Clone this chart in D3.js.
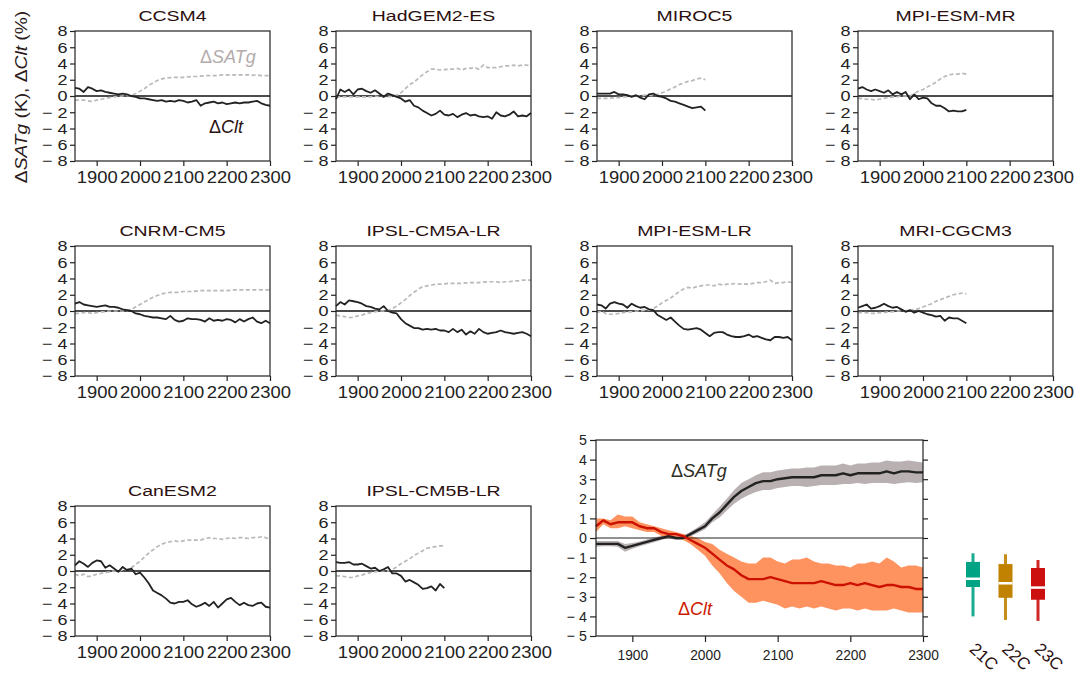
<!DOCTYPE html>
<html><head><meta charset="utf-8">
<script src="https://cdn.jsdelivr.net/npm/d3@7"></script>
<style>
body{margin:0;background:#fff}
text{font-family:"Liberation Sans",Arial,Helvetica,sans-serif}
</style>
</head><body>
<svg id="c" width="1092" height="675"></svg>
<script>
// ---------------- DATA ----------------
const yearsLong = d3.range(1850, 2301, 10);   // 46 decades
const yearsShort = d3.range(1850, 2101, 10);  // 26 decades
const models = ["CCSM4","HadGEM2-ES","MIROC5","MPI-ESM-MR","CNRM-CM5","IPSL-CM5A-LR","MPI-ESM-LR","MRI-CGCM3","CanESM2","IPSL-CM5B-LR"];

const cltCCSM4 = [1.0,0.9,0.5,1.1,0.9,0.6,0.7,0.5,0.4,0.3,0.2,0.3,0.2,0.0,-0.1,-0.3,-0.3,-0.4,-0.5,-0.6,-0.5,-0.7,-0.6,-0.7,-0.5,-0.6,-0.8,-0.7,-0.5,-1.2,-0.9,-0.8,-0.7,-0.9,-0.8,-1.0,-0.9,-0.8,-0.9,-0.8,-0.8,-0.7,-0.6,-0.9,-1.1,-1.2];
const satCCSM4 = [-0.5,-0.5,-0.5,-0.6,-0.7,-0.5,-0.4,-0.3,-0.2,-0.1,-0.05,0,0.05,0.1,0.3,0.6,0.9,1.3,1.6,1.9,2.1,2.2,2.25,2.3,2.3,2.3,2.35,2.4,2.4,2.45,2.5,2.5,2.5,2.5,2.6,2.6,2.55,2.6,2.6,2.6,2.6,2.55,2.6,2.5,2.5,2.5];
const cltHadGEM2ES = [-0.4,0.8,0.5,0.8,0.2,0.8,0.9,0.6,0.4,0.7,0.3,-0.1,0.3,0.1,-0.1,-0.3,-0.7,-0.5,-1.2,-1.4,-1.8,-2.1,-2.4,-2.2,-1.8,-2.3,-2.4,-2.2,-2.6,-2.3,-2.1,-2.4,-2.3,-2.5,-2.6,-2.5,-2.8,-2.0,-2.4,-2.5,-2.3,-1.9,-2.5,-2.4,-2.5,-2.1];
const satHadGEM2ES = [-0.1,-0.1,-0.1,-0.1,-0.1,-0.1,-0.1,-0.1,-0.1,0,-0.1,-0.1,-0.1,0,0.1,0.4,0.9,1.4,1.7,2.2,2.6,3.0,3.3,3.3,3.2,3.25,3.3,3.3,3.4,3.2,3.4,3.4,3.5,3.3,3.8,3.5,3.5,3.5,3.6,3.7,3.7,3.8,3.7,3.8,3.8,3.7];
const cltMIROC5 = [0.3,0.3,0.3,0.3,0.5,0.2,0.2,0.1,-0.1,0.1,-0.2,-0.4,0.2,0.3,0.0,-0.1,-0.3,-0.6,-0.7,-0.9,-1.1,-1.3,-1.5,-1.4,-1.3,-1.8];
const satMIROC5 = [-0.3,-0.3,-0.3,-0.3,-0.2,-0.2,-0.1,-0.1,0,0,0,0.1,0.1,0.0,0.2,0.4,0.6,0.9,1.1,1.4,1.6,1.8,1.9,2.1,2.2,2.0];
const cltMPIESMMR = [0.9,1.1,0.8,0.6,0.8,0.6,0.4,0.7,0.2,0.5,0.2,0.5,-0.4,0.2,-0.4,-0.2,-0.3,-0.9,-1.2,-1.2,-1.5,-1.9,-1.8,-1.9,-1.9,-1.7];
const satMPIESMMR = [-0.3,-0.3,-0.4,-0.4,-0.5,-0.4,-0.3,-0.2,-0.1,-0.1,0,0,0,0.3,0.6,0.8,1.1,1.4,1.7,2.1,2.4,2.6,2.7,2.7,2.8,2.7];
const cltCNRMCM5 = [0.9,1.1,0.8,0.7,0.6,0.5,0.6,0.7,0.5,0.5,0.4,0.2,0.1,0.0,-0.3,-0.4,-0.6,-0.7,-0.8,-0.8,-0.9,-1.0,-0.6,-1.1,-1.3,-1.2,-0.9,-1.0,-1.0,-1.1,-1.3,-0.9,-1.2,-1.1,-1.2,-1.0,-1.1,-1.4,-1.0,-1.3,-1.0,-0.8,-1.3,-1.5,-1.2,-1.5];
const satCNRMCM5 = [-0.3,-0.3,-0.2,-0.2,-0.3,-0.2,-0.1,-0.1,0,0,0,0,0.05,0.2,0.5,0.8,1.1,1.4,1.7,1.9,2.1,2.2,2.3,2.3,2.3,2.4,2.4,2.4,2.45,2.5,2.5,2.5,2.5,2.5,2.5,2.5,2.55,2.6,2.6,2.6,2.6,2.6,2.6,2.6,2.6,2.6];
const cltIPSLCM5ALR = [0.6,1.1,0.8,1.3,1.2,1.1,0.9,0.6,0.5,0.3,0.2,0.6,0.0,-0.2,-0.3,-1.0,-1.5,-1.8,-2.1,-2.1,-2.3,-2.2,-2.3,-2.2,-2.4,-2.4,-2.6,-2.2,-2.6,-2.3,-2.9,-2.5,-2.8,-2.2,-2.6,-2.8,-2.7,-2.6,-2.4,-2.6,-2.7,-2.8,-2.7,-2.6,-2.8,-3.1];
const satIPSLCM5ALR = [-0.5,-0.6,-0.7,-0.8,-0.8,-0.6,-0.5,-0.3,-0.2,-0.1,0,0,0.1,0.3,0.6,1.0,1.4,1.9,2.3,2.7,3.0,3.1,3.2,3.3,3.3,3.35,3.4,3.4,3.4,3.4,3.45,3.5,3.5,3.5,3.55,3.6,3.6,3.6,3.5,3.6,3.6,3.7,3.7,3.8,3.8,3.8];
const cltMPIESMLR = [0.8,0.7,0.3,0.9,1.1,0.9,0.8,0.4,0.9,0.6,0.4,0.5,0.2,0.1,-0.5,-0.8,-1.1,-0.8,-1.3,-1.8,-2.2,-2.3,-2.2,-2.1,-2.3,-2.7,-3.1,-2.7,-2.6,-2.6,-2.9,-3.1,-3.2,-3.2,-3.1,-2.9,-3.2,-3.1,-3.3,-3.5,-3.6,-3.2,-3.2,-3.3,-3.2,-3.6];
const satMPIESMLR = [-0.2,0,-0.3,-0.4,-0.4,-0.3,-0.2,-0.1,-0.1,0,0,0.1,0.1,0.3,0.6,1.0,1.3,1.6,2.0,2.4,2.7,2.9,2.8,3.0,3.1,3.2,3.2,3.1,3.3,3.2,3.3,3.3,3.4,3.3,3.3,3.3,3.4,3.5,3.5,3.6,3.8,3.4,3.5,3.5,3.6,3.5];
const cltMRICGCM3 = [0.4,0.6,0.8,0.3,0.4,0.6,0.9,0.6,0.4,0.5,0.2,-0.1,0.1,-0.2,0.0,-0.2,-0.4,-0.5,-0.7,-0.6,-1.2,-0.8,-0.9,-0.9,-1.2,-1.5];
const satMRICGCM3 = [-0.2,-0.2,-0.2,-0.3,-0.3,-0.2,-0.2,-0.1,-0.1,0,0,0.05,0.1,0.2,0.3,0.5,0.7,0.9,1.2,1.4,1.6,1.8,2.0,2.1,2.2,2.1];
const cltCanESM2 = [0.7,1.2,0.9,0.5,1.0,1.3,1.2,0.4,0.7,0.3,-0.1,0.5,0.1,0.3,-0.4,-0.2,-0.8,-1.5,-2.4,-2.7,-3.0,-3.4,-3.9,-4.0,-3.8,-3.8,-3.6,-4.1,-4.4,-4.2,-3.9,-4.3,-3.8,-4.5,-4.0,-3.5,-3.3,-3.8,-4.2,-3.9,-4.2,-4.3,-4.0,-3.9,-4.4,-4.5];
const satCanESM2 = [-0.4,-0.6,-0.4,-0.7,-0.6,-0.4,-0.3,-0.2,-0.1,0,0,0.1,0.2,0.4,0.8,1.2,1.7,2.2,2.6,3.0,3.3,3.5,3.6,3.7,3.6,3.7,3.8,3.8,3.8,3.8,4.0,4.1,4.0,4.0,3.9,4.0,4.1,4.0,4.1,4.1,4.0,4.1,4.1,4.2,4.1,3.9];
const cltIPSLCM5BLR = [1.1,1.0,1.0,1.1,0.8,0.8,0.9,0.6,0.3,0.4,0.0,0.2,0.5,-0.3,-0.3,-0.6,-1.3,-1.1,-1.4,-1.7,-2.2,-2.1,-1.9,-2.4,-1.6,-2.1];
const satIPSLCM5BLR = [-0.6,-0.6,-0.7,-0.8,-0.8,-0.6,-0.5,-0.3,-0.2,-0.1,0,0,0,0.2,0.5,0.9,1.2,1.5,1.9,2.2,2.5,2.8,2.9,3.0,3.1,3.1];

const cltSeries = [cltCCSM4,cltHadGEM2ES,cltMIROC5,cltMPIESMMR,cltCNRMCM5,cltIPSLCM5ALR,cltMPIESMLR,cltMRICGCM3,cltCanESM2,cltIPSLCM5BLR];
const satSeries = [satCCSM4,satHadGEM2ES,satMIROC5,satMPIESMMR,satCNRMCM5,satIPSLCM5ALR,satMPIESMLR,satMRICGCM3,satCanESM2,satIPSLCM5BLR];

// multi-model mean and spread
const satMean = [-0.3,-0.3,-0.3,-0.3,-0.5,-0.4,-0.3,-0.2,-0.1,0.0,0.1,0.0,0.0,0.2,0.4,0.6,1.0,1.3,1.7,2.1,2.4,2.6,2.8,2.9,2.9,3.0,3.05,3.1,3.1,3.1,3.1,3.2,3.2,3.2,3.3,3.2,3.3,3.3,3.3,3.3,3.4,3.3,3.4,3.4,3.35,3.35];
const satLo = [-0.45,-0.42,-0.42,-0.45,-0.7,-0.55,-0.42,-0.32,-0.22,-0.1,0.0,-0.1,-0.1,0.08,0.25,0.45,0.8,1.05,1.4,1.75,2.0,2.2,2.35,2.45,2.45,2.55,2.6,2.65,2.65,2.6,2.65,2.7,2.7,2.7,2.75,2.75,2.8,2.75,2.8,2.8,2.8,2.75,2.8,2.85,2.8,2.85];
const satHi = [-0.15,-0.15,-0.15,-0.15,-0.3,-0.25,-0.18,-0.08,0.02,0.12,0.22,0.1,0.12,0.32,0.55,0.8,1.2,1.6,2.0,2.45,2.8,3.0,3.2,3.35,3.35,3.45,3.5,3.55,3.55,3.6,3.6,3.7,3.7,3.7,3.8,3.7,3.8,3.8,3.85,3.85,3.95,3.9,3.9,3.95,3.9,3.85];
const cltMean = [0.6,0.9,0.7,0.8,0.8,0.8,0.6,0.5,0.5,0.3,0.2,0.2,0.1,-0.1,-0.3,-0.5,-0.8,-1.1,-1.4,-1.6,-1.9,-2.1,-2.1,-2.1,-2.0,-2.1,-2.2,-2.3,-2.3,-2.3,-2.3,-2.2,-2.3,-2.4,-2.4,-2.3,-2.4,-2.3,-2.4,-2.5,-2.4,-2.4,-2.5,-2.5,-2.6,-2.6];
const cltHi = [1.0,1.0,0.9,1.2,1.1,1.1,0.8,0.7,0.6,0.5,0.4,0.3,0.2,0.1,0.0,-0.2,-0.3,-0.6,-0.8,-1.0,-1.2,-1.3,-1.3,-1.0,-1.0,-1.2,-1.3,-1.1,-1.1,-1.0,-1.2,-1.3,-1.3,-1.4,-1.4,-1.5,-1.3,-1.3,-1.2,-1.3,-1.0,-1.2,-1.5,-1.4,-1.4,-1.5];
const cltLo = [0.3,0.7,0.5,0.5,0.6,0.5,0.4,0.3,0.3,0.1,0.0,0.0,-0.1,-0.3,-0.6,-0.9,-1.4,-1.8,-2.3,-2.7,-3.0,-3.3,-3.3,-3.2,-3.3,-3.4,-3.6,-3.5,-3.6,-3.5,-3.6,-3.5,-3.6,-3.7,-3.6,-3.6,-3.7,-3.6,-3.7,-3.7,-3.7,-3.6,-3.7,-3.8,-3.8,-3.8];

// boxplots of ΔClt by century
const boxLabels = ["21C","22C","23C"];
const boxWhiskerHi = [-0.78,-0.83,-1.12];
const boxQ3 = [-1.22,-1.33,-1.53];
const boxMedian = [-2.08,-2.31,-2.53];
const boxQ1 = [-2.5,-3.05,-3.15];
const boxWhiskerLo = [-4.0,-4.18,-4.23];
const boxColors = ["#00a383","#c08200","#cc1010"];

const smallYTicks = d3.range(-8, 9, 2);
const xTicks = [1900,2000,2100,2200,2300];
const bigYTicks = d3.range(-5, 6, 1);

// ---------------- DRAW ----------------
const svg = d3.select("#c");
const colX = [75, 336, 597, 858];
const rowY = [31, 246, 506];
const PW = 195, PH = 130;
const titleCol = "#2b1010";
const fmtMinus = d => d < 0 ? "\u2212 " + Math.abs(d) : String(d);

const xs = d3.scaleLinear().domain([1850, 2300]).range([0, PW]);
const ys = d3.scaleLinear().domain([-8, 8]).range([PH, 0]);

models.forEach((name, i) => {
  const c = i % 4, r = Math.floor(i / 4);
  const g = svg.append("g").attr("transform", `translate(${colX[c]},${rowY[r]})`);
  const clt = cltSeries[i], sat = satSeries[i];
  const yrs = clt.length === yearsLong.length ? yearsLong : yearsShort;
  const line = d3.line().x((d, k) => xs(yrs[k])).y(d => ys(d));

  g.append("line").attr("x1", 0).attr("x2", PW).attr("y1", ys(0)).attr("y2", ys(0))
    .attr("stroke", "#111").attr("stroke-width", 1.4);
  g.append("path").datum(sat).attr("d", line).attr("fill", "none")
    .attr("stroke", "#bdb8b8").attr("stroke-width", 1.7).attr("stroke-dasharray", "4,2.5");
  g.append("path").datum(clt).attr("d", line).attr("fill", "none")
    .attr("stroke", "#222").attr("stroke-width", 1.8).attr("stroke-linejoin", "round");
  g.append("rect").attr("width", PW).attr("height", PH).attr("fill", "none")
    .attr("stroke", "#222").attr("stroke-width", 1.2);

  const ya = g.append("g").call(d3.axisLeft(ys).tickValues(smallYTicks).tickSize(5).tickPadding(2).tickFormat(fmtMinus));
  ya.select(".domain").remove();
  ya.selectAll("line").attr("stroke", "#222").attr("stroke-width", 1.2);
  ya.selectAll("text").attr("font-size", 15).attr("fill", "#222")
    .attr("x", -7.5 / 1.2).attr("transform", "scale(1.2,1)").style("white-space", "pre")
    .style("font-family", '"Liberation Sans",Arial,sans-serif');

  const xa = g.append("g").attr("transform", `translate(0,${PH})`)
    .call(d3.axisBottom(xs).tickValues(xTicks).tickSize(5).tickPadding(6).tickFormat(d3.format("d")));
  xa.select(".domain").remove();
  xa.selectAll("line").attr("stroke", "#222").attr("stroke-width", 1.2);
  xa.selectAll("text").attr("font-size", 16).attr("fill", "#222")
    .attr("transform", "scale(1.15,1)")
    .style("font-family", '"Liberation Sans",Arial,sans-serif');

  g.append("text").attr("x", PW / 2).attr("y", -10).attr("text-anchor", "middle")
    .attr("font-size", 15).attr("fill", titleCol)
    .attr("transform", `translate(${PW/2},0) scale(1.3,1) translate(${-PW/2},0)`)
    .text(name);
});

// panel labels inside CCSM4
const lab1 = svg.append("text").attr("x", 200).attr("y", 63).attr("font-size", 18).attr("fill", "#b3abab");
lab1.append("tspan").text("Δ");
lab1.append("tspan").attr("font-style", "italic").text("SATg");
const lab2 = svg.append("text").attr("x", 209).attr("y", 133).attr("font-size", 18).attr("fill", "#2b1010");
lab2.append("tspan").text("Δ");
lab2.append("tspan").attr("font-style", "italic").text("Clt");

// y-axis title
const yt = svg.append("text").attr("transform", "translate(27,97) rotate(-90) scale(1.2,1)")
  .attr("text-anchor", "middle").attr("font-size", 16).attr("fill", "#2b1a1a");
yt.append("tspan").text("Δ");
yt.append("tspan").attr("font-style", "italic").text("SATg");
yt.append("tspan").text(" (K), Δ");
yt.append("tspan").attr("font-style", "italic").text("Clt");
yt.append("tspan").text(" (%)");

// ---------------- BIG PANEL ----------------
const BX = 596, BY = 440, BW = 327, BH = 196;
const bx = d3.scaleLinear().domain([1850, 2300]).range([0, BW]);
const by = d3.scaleLinear().domain([-5, 5]).range([BH, 0]);
const bg = svg.append("g").attr("transform", `translate(${BX},${BY})`);

const area = (lo, hi) => d3.area().x((d, k) => bx(yearsLong[k])).y0((d, k) => by(lo[k])).y1(d => by(d))(hi);
const bline = d3.line().x((d, k) => bx(yearsLong[k])).y(d => by(d));

bg.append("path").attr("d", area(satLo, satHi)).attr("fill", "#b9b1b1");
bg.append("path").attr("d", area(cltLo, cltHi)).attr("fill", "#ff9360");
bg.append("line").attr("x1", 0).attr("x2", BW).attr("y1", by(0)).attr("y2", by(0))
  .attr("stroke", "#222").attr("stroke-width", 1);
bg.append("path").datum(satMean).attr("d", bline).attr("fill", "none")
  .attr("stroke", "#222").attr("stroke-width", 2.4).attr("stroke-linejoin", "round");
bg.append("path").datum(cltMean).attr("d", bline).attr("fill", "none")
  .attr("stroke", "#cc1100").attr("stroke-width", 2.4).attr("stroke-linejoin", "round");
bg.append("rect").attr("width", BW).attr("height", BH).attr("fill", "none")
  .attr("stroke", "#222").attr("stroke-width", 1.2);

const bya = bg.append("g").call(d3.axisLeft(by).tickValues(bigYTicks).tickSize(6).tickPadding(3).tickFormat(fmtMinus));
bya.select(".domain").remove();
bya.selectAll("line").attr("stroke", "#222").attr("stroke-width", 1.2);
bya.selectAll("text").attr("font-size", 15).attr("fill", "#222")
  .attr("x", -9 / 0.95).attr("transform", "scale(0.95,1)").style("white-space", "pre");
const bra = bg.append("g").attr("transform", `translate(${BW},0)`)
  .call(d3.axisRight(by).tickValues(bigYTicks).tickSize(5).tickFormat(""));
bra.select(".domain").remove();
bra.selectAll("line").attr("stroke", "#222").attr("stroke-width", 1.2);
const bxa = bg.append("g").attr("transform", `translate(0,${BH})`)
  .call(d3.axisBottom(bx).tickValues(xTicks).tickSize(6).tickPadding(7).tickFormat(d3.format("d")));
bxa.select(".domain").remove();
bxa.selectAll("line").attr("stroke", "#222").attr("stroke-width", 1.2);
bxa.selectAll("text").attr("font-size", 15).attr("fill", "#222").attr("transform", "scale(0.92,1)");

const bl1 = bg.append("text").attr("x", 75).attr("y", 37).attr("font-size", 18).attr("fill", "#2e2e1e");
bl1.append("tspan").text("Δ");
bl1.append("tspan").attr("font-style", "italic").text("SATg");
const bl2 = bg.append("text").attr("x", 82).attr("y", 175).attr("font-size", 18).attr("fill", "#cc1a00");
bl2.append("tspan").text("Δ");
bl2.append("tspan").attr("font-style", "italic").text("Clt");

// boxplots
const bpx = d3.scalePoint().domain(boxLabels).range([973 - BX, 1038 - BX]);
const BWID = 14;
boxLabels.forEach((lab, i) => {
  const cx = bpx(lab), col = boxColors[i];
  bg.append("line").attr("x1", cx).attr("x2", cx).attr("y1", by(boxWhiskerHi[i])).attr("y2", by(boxWhiskerLo[i]))
    .attr("stroke", col).attr("stroke-width", 3).attr("opacity", 0.9);
  bg.append("rect").attr("x", cx - BWID / 2).attr("width", BWID)
    .attr("y", by(boxQ3[i])).attr("height", by(boxQ1[i]) - by(boxQ3[i])).attr("fill", col);
  bg.append("line").attr("x1", cx - BWID / 2).attr("x2", cx + BWID / 2)
    .attr("y1", by(boxMedian[i])).attr("y2", by(boxMedian[i])).attr("stroke", "#fff").attr("stroke-width", 2.5);
  bg.append("text").attr("text-anchor", "middle").attr("font-size", 17).attr("fill", "#2b1010")
    .attr("transform", `translate(${cx + 7},${BH + 25}) rotate(42)`).text(lab);
});
</script>
</body></html>
